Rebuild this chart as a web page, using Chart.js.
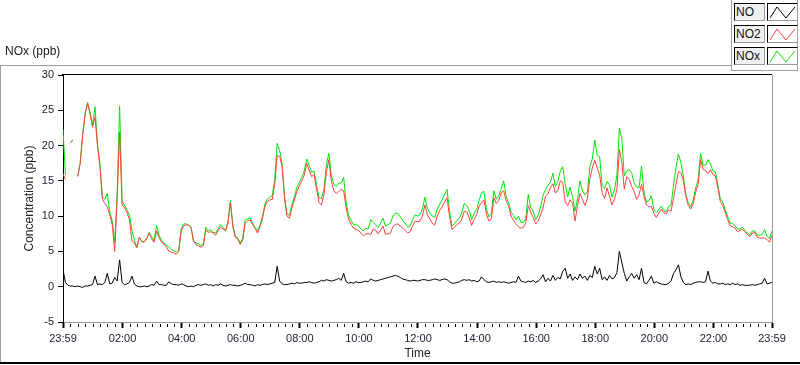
<!DOCTYPE html>
<html>
<head>
<meta charset="utf-8">
<script src="https://cdn.jsdelivr.net/npm/chart.js@4.4.1/dist/chart.umd.min.js"></script>
<style>
  html, body { margin: 0; padding: 0; background: #fff; }
  #wrap { position: relative; width: 800px; height: 365px; overflow: hidden; font-family: "Liberation Sans", Arial, sans-serif; }
  #c { position: absolute; left: 0; top: 0; }
  .ln { position: absolute; }
  .title { position: absolute; left: 5px; top: 44px; font-size: 12px; color: #222; }
  .lgt { position: absolute; left: 734px; width: 28px; height: 16px; background: #f0f0f0;
         border-top: 1px solid #000; border-left: 1px solid #000; border-right: 1px solid #9a9a9a; border-bottom: 1px solid #9a9a9a;
         font-size: 12px; line-height: 16px; color: #111; padding-left: 1px; box-sizing: content-box; }
  .lgs { position: absolute; left: 767px; width: 29px; height: 16px; background: #fff;
         border-top: 1px solid #000; border-left: 1px solid #000; border-right: 1px solid #9a9a9a; border-bottom: 1px solid #9a9a9a; }
</style>
</head>
<body>
<div id="wrap">
  <canvas id="c" width="800" height="365"></canvas>
  <!-- outer frame -->
  <div class="ln" style="left:0;top:65px;width:732px;height:1px;background:#a0a0a0"></div>
  <div class="ln" style="left:0;top:65px;width:1px;height:298px;background:#a0a0a0"></div>
  <div class="ln" style="left:0;top:362px;width:800px;height:2px;background:#000"></div>
  <div class="ln" style="left:731px;top:0;width:1px;height:71px;background:#a0a0a0"></div>
  <div class="ln" style="left:731px;top:70px;width:67px;height:1px;background:#a0a0a0"></div>
  <div class="ln" style="left:797px;top:0;width:1px;height:71px;background:#a0a0a0"></div>
  <div class="title">NOx (ppb)</div>
  <div class="lgt" style="top:3px">NO</div>
  <div class="lgs" style="top:3px"><svg width="29" height="16"><polyline points="2,14 9,3 18,14 27,3" fill="none" stroke="#000" stroke-width="1"/></svg></div>
  <div class="lgt" style="top:25px">NO2</div>
  <div class="lgs" style="top:25px"><svg width="29" height="16"><polyline points="2,14 9,3 18,14 27,3" fill="none" stroke="#ff4040" stroke-width="1"/></svg></div>
  <div class="lgt" style="top:47px">NOx</div>
  <div class="lgs" style="top:47px"><svg width="29" height="16"><polyline points="2,14 9,3 18,14 27,3" fill="none" stroke="#00e600" stroke-width="1"/></svg></div>
</div>
<script>
// x-axis tick labels and their positions (minutes after 23:59)
const timeLabels = ["23:59","02:00","04:00","06:00","08:00","10:00","12:00","14:00","16:00","18:00","20:00","22:00","23:59"];
const tickMinutes = [0,121,241,361,481,601,721,841,961,1081,1201,1321,1440];
const sampleStepMin = 5;

// NO2 (ppb), one value every 5 minutes
const NO2 = [
16, 15.2, null, 20.4, 20.7, null, 15.6, 17.5, 21.5, 24.5,
26.0, 24.5, 22.6, 24.0, 20.0, 17.0, 12.4, 11.8, 11.3, 10.2,
8.8, 5.0, 12.5, 21.9, 11.6, 11.2, 10.5, 9.5, 6.5, 6.2,
5.5, 7.0, 6.4, 6.3, 6.8, 7.6, 6.8, 6.3, 7.9, 7.0,
6.3, 6.0, 5.7, 5.0, 4.9, 4.8, 4.6, 5.0, 7.8, 8.6,
8.8, 8.7, 8.4, 6.5, 6.0, 5.8, 5.6, 5.8, 8.0, 7.7,
7.8, 7.6, 7.3, 8.0, 8.4, 8.2, 7.9, 9.0, 11.9, 8.5,
7.0, 6.8, 6.0, 6.6, 9.0, 9.3, 9.5, 8.8, 8.3, 7.6,
8.5, 9.6, 11.3, 12.1, 12.3, 12.4, 14.5, 18.6, 18.5, 17.0,
12.4, 10.0, 9.7, 11.2, 12.3, 13.5, 14.3, 15.0, 15.8, 17.5,
16.5, 15.6, 15.9, 13.8, 11.9, 11.6, 13.1, 16.3, 18.0, 15.0,
13.6, 13.2, 13.5, 13.8, 13.6, 11.2, 9.6, 8.8, 8.3, 8.1,
8.0, 7.6, 7.2, 7.5, 7.5, 7.4, 8.2, 8.0, 7.5, 8.0,
8.6, 7.4, 7.5, 7.6, 8.5, 8.8, 8.9, 8.6, 8.3, 8.0,
7.6, 7.8, 8.6, 9.3, 9.2, 9.3, 10.0, 11.6, 10.2, 9.6,
9.0, 8.7, 10.0, 10.8, 11.3, 12.0, 12.6, 10.0, 8.1, 8.4,
8.8, 9.0, 9.6, 10.7, 10.6, 9.8, 8.7, 9.5, 10.2, 11.4,
11.9, 12.3, 10.3, 9.3, 9.6, 12.6, 11.8, 12.2, 13.3, 13.6,
12.2, 11.4, 10.0, 9.4, 8.9, 8.5, 8.3, 8.4, 9.1, 11.5,
10.5, 9.8, 8.9, 9.3, 10.2, 11.2, 12.8, 13.2, 14.0, 14.6,
13.3, 13.6, 15.0, 14.8, 12.0, 11.5, 12.3, 11.8, 9.3, 11.5,
13.2, 12.4, 11.5, 12.5, 15.3, 16.8, 17.9, 16.8, 15.8, 13.3,
12.5, 14.0, 12.8, 11.6, 12.4, 13.8, 19.5, 17.6, 13.8, 15.6,
15.2, 14.2, 13.5, 12.4, 13.0, 14.5, 12.8, 11.6, 11.3, 11.4,
10.4, 9.8, 10.4, 11.0, 10.5, 10.3, 10.9, 10.7, 12.5, 14.5,
16.3, 16.2, 15.0, 12.8, 11.5, 11.0, 11.8, 13.4, 14.5, 18.0,
16.6, 16.5, 16.0, 16.6, 15.9, 15.7, 14.0, 12.1, 11.5, 10.6,
9.5, 8.6, 8.5, 8.3, 7.8, 8.0, 8.1, 7.8, 7.4, 7.1,
7.6, 7.7, 7.0, 6.9, 6.9, 6.9, 6.7, 6.3, 7.3
];

// NOx (ppb)
const NOx = [
22.3, 15.8, null, 20.5, 20.8, null, 15.7, 17.6, 21.6, 24.6,
26.1, 24.7, 22.9, 25.5, 20.3, 17.4, 12.7, 12.4, 13.2, 10.6,
9.3, 6.3, 13.3, 25.6, 12.2, 11.5, 10.9, 10.1, 8.0, 6.6,
5.6, 7.0, 6.4, 6.4, 6.8, 7.7, 7.1, 6.5, 8.7, 7.3,
6.6, 6.2, 5.9, 5.7, 5.3, 5.1, 4.9, 5.2, 8.2, 8.9,
8.9, 8.7, 8.5, 6.5, 6.2, 6.1, 5.8, 6.1, 8.4, 7.9,
8.1, 7.7, 7.6, 8.2, 8.8, 8.4, 8.0, 9.2, 12.2, 8.7,
7.2, 6.9, 6.2, 6.9, 9.5, 9.6, 9.8, 9.0, 8.4, 7.9,
8.7, 9.9, 11.7, 12.4, 12.7, 12.9, 15.1, 20.3, 19.3, 17.4,
12.7, 10.3, 10.1, 11.7, 12.7, 14.1, 14.8, 15.5, 16.4, 18.1,
17.2, 16.2, 16.4, 14.4, 12.6, 12.5, 13.9, 17.3, 18.9, 15.8,
14.5, 14.2, 14.7, 14.7, 15.5, 11.9, 10.1, 9.4, 8.8, 8.8,
8.6, 8.2, 7.9, 8.3, 8.2, 9.5, 9.1, 8.8, 8.4, 9.0,
9.7, 8.6, 8.8, 9.0, 10.0, 10.4, 10.4, 9.9, 9.4, 9.0,
8.5, 8.6, 9.5, 10.2, 10.0, 10.2, 11.0, 12.7, 11.1, 10.5,
10.0, 9.8, 11.0, 11.7, 12.3, 13.1, 13.8, 10.7, 8.6, 8.9,
9.4, 9.7, 10.5, 11.8, 11.5, 10.8, 9.5, 10.4, 10.9, 12.2,
13.3, 13.5, 11.0, 9.9, 10.3, 13.6, 12.4, 12.9, 13.9, 15.0,
12.8, 11.9, 10.6, 10.1, 9.5, 10.0, 9.1, 9.1, 9.7, 13.1,
11.2, 10.7, 9.5, 10.1, 11.3, 12.9, 13.8, 14.4, 14.8, 16.1,
14.2, 14.9, 16.4, 17.0, 14.6, 12.7, 14.1, 12.7, 10.7, 12.5,
15.0, 13.6, 13.0, 13.4, 16.9, 18.1, 20.8, 18.6, 18.4, 14.3,
13.9, 14.9, 14.4, 12.7, 13.7, 15.8, 22.5, 21.0, 15.7, 16.4,
16.6, 16.1, 14.7, 14.1, 14.0, 17.1, 13.4, 12.0, 12.2, 12.9,
10.9, 10.5, 10.9, 11.4, 10.8, 10.6, 11.4, 11.5, 14.4, 16.9,
18.8, 17.6, 15.6, 13.1, 11.9, 11.3, 12.3, 14.0, 15.2, 18.9,
17.2, 17.2, 18.0, 17.4, 16.4, 16.3, 14.4, 12.5, 12.0, 10.9,
9.9, 9.0, 9.0, 8.6, 8.2, 8.2, 8.4, 8.0, 7.6, 7.3,
7.9, 7.9, 7.3, 7.3, 7.4, 8.1, 7.1, 6.8, 7.9
];

// NO (ppb)
const NO = [
2.4, 0.6, 0.2, 0.1, 0.1, 0.0, 0.1, 0.0, -0.1, 0.1,
0.1, 0.2, 0.3, 1.5, 0.3, 0.4, 0.3, 0.6, 1.9, 0.4,
0.5, 1.3, 0.8, 3.8, 0.6, 0.3, 0.4, 0.6, 1.5, 0.4,
0.1, 0.0, 0.0, 0.1, 0.0, 0.1, 0.3, 0.2, 0.8, 0.3,
0.3, 0.2, 0.2, 0.7, 0.4, 0.3, 0.3, 0.2, 0.4, 0.3,
0.1, 0.0, 0.1, 0.0, 0.2, 0.3, 0.2, 0.3, 0.4, 0.2,
0.3, 0.1, 0.3, 0.2, 0.4, 0.2, 0.1, 0.2, 0.3, 0.2,
0.2, 0.1, 0.2, 0.3, 0.5, 0.3, 0.3, 0.2, 0.1, 0.3,
0.2, 0.3, 0.4, 0.3, 0.4, 0.5, 0.6, 2.9, 0.8, 0.4,
0.3, 0.3, 0.4, 0.5, 0.4, 0.6, 0.5, 0.5, 0.6, 0.6,
0.7, 0.6, 0.5, 0.6, 0.7, 0.9, 0.8, 1.0, 0.9, 0.8,
0.9, 1.0, 1.2, 0.9, 1.9, 0.7, 0.5, 0.6, 0.5, 0.7,
0.6, 0.6, 0.7, 0.8, 0.7, 1.1, 0.9, 0.8, 0.9, 1.0,
1.1, 1.2, 1.3, 1.4, 1.5, 1.6, 1.5, 1.3, 1.1, 1.0,
0.9, 0.8, 0.9, 0.9, 0.8, 0.9, 1.0, 1.0, 0.9, 0.9,
1.0, 1.1, 1.0, 0.9, 1.0, 1.1, 1.0, 0.7, 0.5, 0.5,
0.6, 0.7, 0.9, 1.0, 0.9, 1.0, 0.8, 0.9, 0.7, 0.8,
1.4, 1.0, 0.7, 0.6, 0.7, 0.8, 0.6, 0.7, 0.6, 0.7,
0.6, 0.5, 0.6, 0.7, 0.6, 1.5, 0.8, 0.7, 0.6, 0.8,
0.7, 0.9, 0.6, 0.8, 1.1, 1.7, 0.7, 1.2, 0.8, 1.6,
0.9, 1.3, 1.1, 2.2, 2.6, 1.2, 1.8, 0.9, 1.4, 1.0,
1.8, 1.2, 1.5, 0.9, 1.6, 1.3, 2.9, 1.8, 2.6, 1.0,
1.4, 0.9, 1.6, 1.1, 1.3, 2.0, 5.0, 3.4, 1.9, 0.8,
1.4, 1.9, 1.2, 1.7, 1.0, 2.6, 0.6, 0.4, 0.9, 1.5,
0.5, 0.7, 0.5, 0.4, 0.3, 0.3, 0.5, 0.8, 1.9, 2.4,
3.1, 1.4, 0.6, 0.3, 0.4, 0.3, 0.5, 0.6, 0.7, 0.7,
0.6, 0.7, 2.2, 0.8, 0.5, 0.6, 0.4, 0.4, 0.5, 0.3,
0.4, 0.3, 0.5, 0.3, 0.4, 0.2, 0.3, 0.2, 0.2, 0.2,
0.3, 0.2, 0.3, 0.4, 0.5, 1.2, 0.4, 0.5, 0.6
];

const toPts = arr => arr.map((v, i) => ({ x: i * sampleStepMin, y: v }));

// minor x ticks every 15 min between the labelled ticks (axis decoration)
const minorTicks = [];
for (let k = 0; k < tickMinutes.length - 1; k++) {
  for (let m = tickMinutes[k] + 15; m < tickMinutes[k + 1] - 5; m += 15) minorTicks.push(m);
}

const framePlugin = {
  id: 'frame',
  afterDraw(chart) {
    const ctx = chart.ctx, a = chart.chartArea;
    const xs = chart.scales.x;
    ctx.save();
    ctx.lineWidth = 1;
    // top border (black) and right border (gray)
    ctx.strokeStyle = '#000';
    ctx.beginPath();
    ctx.moveTo(a.left - 1, Math.round(a.top) - 0.5);
    ctx.lineTo(Math.round(a.right), Math.round(a.top) - 0.5);
    ctx.stroke();
    ctx.strokeStyle = '#9a9a9a';
    ctx.beginPath();
    ctx.moveTo(Math.round(a.right) + 0.5, Math.round(a.top));
    ctx.lineTo(Math.round(a.right) + 0.5, Math.round(a.bottom) + 1);
    ctx.stroke();
    // minor ticks
    ctx.strokeStyle = '#000';
    ctx.beginPath();
    minorTicks.forEach(m => {
      const px = Math.round(xs.getPixelForValue(m)) + 0.5;
      ctx.moveTo(px, Math.round(a.bottom) + 2);
      ctx.lineTo(px, Math.round(a.bottom) + 5);
    });
    ctx.stroke();
    ctx.restore();
  }
};

new Chart(document.getElementById('c'), {
  type: 'line',
  data: {
    datasets: [
      { label: 'NO', data: toPts(NO), borderColor: '#000000', borderWidth: 1, pointRadius: 0, tension: 0, spanGaps: false },
      { label: 'NO2', data: toPts(NO2), borderColor: '#ff4040', borderWidth: 1, pointRadius: 0, tension: 0, spanGaps: false },
      { label: 'NOx', data: toPts(NOx), borderColor: '#00e600', borderWidth: 1, pointRadius: 0, tension: 0, spanGaps: false }
    ]
  },
  options: {
    responsive: false,
    animation: false,
    devicePixelRatio: 1,
    layout: { padding: { left: 0, top: 75, right: 28, bottom: 0 } },
    plugins: { legend: { display: false }, tooltip: { enabled: false }, title: { display: false } },
    scales: {
      x: {
        type: 'linear',
        min: 0, max: 1440,
        afterBuildTicks: s => { s.ticks = tickMinutes.map(v => ({ value: v })); },
        afterFit: s => { s.height = 43; },
        ticks: {
          autoSkip: false, maxRotation: 0, padding: 4,
          font: { family: 'Liberation Sans', size: 11 }, color: '#1a1a33',
          callback: (v) => { const k = tickMinutes.indexOf(v); return k >= 0 ? timeLabels[k] : ''; }
        },
        grid: { drawOnChartArea: false, drawTicks: true, tickLength: 6, tickWidth: 2, tickColor: '#000' },
        border: { display: true, color: '#9a9a9a', width: 1 },
        title: { display: true, text: 'Time', font: { family: 'Liberation Sans', size: 12 }, color: '#222', padding: { top: 0, bottom: 4 } }
      },
      y: {
        min: -5, max: 30,
        afterFit: s => { s.width = 63; },
        ticks: { stepSize: 5, padding: 4, font: { family: 'Liberation Sans', size: 11 }, color: '#1a1a33' },
        grid: { drawOnChartArea: false, drawTicks: true, tickLength: 5, tickColor: '#000' },
        border: { display: true, color: '#000', width: 1 },
        title: { display: true, text: 'Concentration (ppb)', font: { family: 'Liberation Sans', size: 12 }, color: '#222', padding: { top: 22, bottom: 0 } }
      }
    }
  },
  plugins: [framePlugin]
});
</script>
</body>
</html>
